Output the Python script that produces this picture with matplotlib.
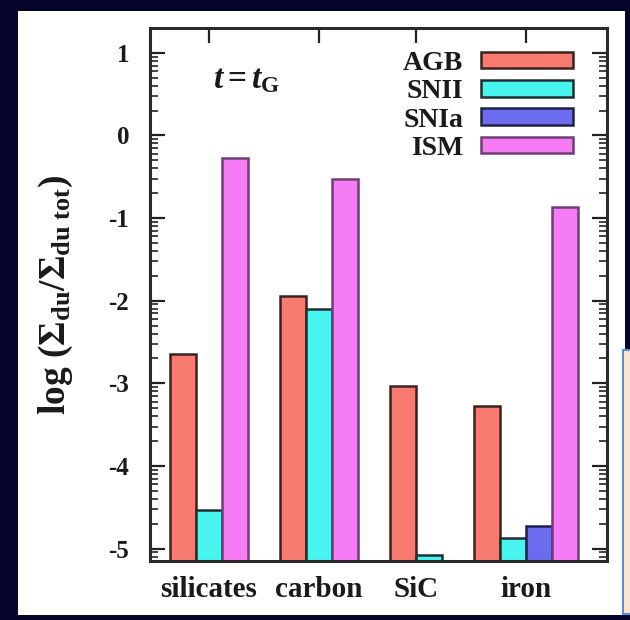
import numpy as np
import matplotlib
matplotlib.use('Agg')
import matplotlib.pyplot as plt
from matplotlib.patches import Rectangle

plt.rcParams['font.family'] = ['Liberation Serif', 'DejaVu Serif']
plt.rcParams['font.weight'] = 'bold'
plt.rcParams['axes.labelweight'] = 'bold'
plt.rcParams['mathtext.fontset'] = 'custom'
plt.rcParams['mathtext.rm'] = 'Liberation Serif:bold'
plt.rcParams['mathtext.it'] = 'Liberation Serif:italic:bold'
plt.rcParams['mathtext.bf'] = 'Liberation Serif:bold'

# dust species and stellar/ISM sources, log of the fraction of total dust
groups = ['silicates', 'carbon', 'SiC', 'iron']
sources = ['AGB', 'SNII', 'SNIa', 'ISM']
agb = [-2.65, -1.94, -3.03, -3.27]
snii = [-4.53, -2.10, -5.08, -4.87]
snia = [None, None, None, -4.73]
ism = [-0.27, -0.53, None, -0.87]
values = [agb, snii, snia, ism]

colors = ['#f77b6f', '#48f4ee', '#6c6cee', '#f57cf5']
edges = ['#3a2222', '#1f3030', '#20204a', '#6e3f75']

fig = plt.figure(figsize=(6.3, 6.2), dpi=100)
fig.patch.set_facecolor('#05052b')

# white slide panel behind the plot
fig.patches.append(Rectangle((0.0286, 0.008), 0.9635, 0.974, transform=fig.transFigure,
                             facecolor='white', edgecolor='none', zorder=-2))
# corner of the neighbouring text box
fig.patches.append(Rectangle((0.989, 0.0097), 0.05, 0.426, transform=fig.transFigure,
                             facecolor='#fde3cb', edgecolor='#5b8ed6', linewidth=1.5, zorder=-1))

ax = fig.add_axes([0.238, 0.0952, 0.7254, 0.8597])
ax.set_zorder(1)
ax.set_facecolor('none')

# bars of one group sit side by side, missing sources are skipped
gap = 1.23
base = -6.0
pos = [[] for _ in sources]
hts = [[] for _ in sources]
centers = []
x = 0.0
for gi in range(len(groups)):
    start = x
    for si in range(len(sources)):
        v = values[si][gi]
        if v is None:
            continue
        pos[si].append(x + 0.5)
        hts[si].append(v - base)
        x += 1
    centers.append((start + x) / 2)
    x += gap

handles = []
for si, name in enumerate(sources):
    b = ax.bar(pos[si], hts[si], width=1.0, bottom=base, color=colors[si],
               edgecolor=edges[si], linewidth=1.8, label=name)
    handles.append(b)

ax.set_xlim(-0.77, 16.8)
ax.set_ylim(-5.15, 1.3)
ax.set_axisbelow(True)

ax.set_xticks(centers)
ax.set_xticklabels(groups, fontsize=21)
ax.set_yticks(np.arange(-5, 2))
ax.set_yticklabels([str(v) for v in range(-5, 2)], fontsize=18)

minor = [m + np.log10(k) for m in range(-6, 2) for k in range(2, 10)]
ax.set_yticks([v for v in minor if -5.15 < v < 1.3], minor=True)

ax.tick_params(axis='both', which='major', direction='in', length=11, width=1.6,
               color='#222222', labelcolor='#1a1a1a', top=True, right=True)
ax.tick_params(axis='y', which='major', pad=15)
ax.tick_params(axis='x', which='major', pad=11)
ax.tick_params(axis='y', which='minor', direction='in', length=6, width=1.2,
               color='#222222', right=True)
for sp in ax.spines.values():
    sp.set_linewidth(2.2)
    sp.set_color('#2a2a2a')

ax.set_ylabel(r'log ($\Sigma_{\rm du}/\Sigma_{\rm du\ tot}$)', fontsize=27,
              va='center', color='#1a1a1a')
ax.yaxis.set_label_coords(-0.206, 0.5)

ax.text(0.138, 0.887, r'$t=t_{\rm G}$', transform=ax.transAxes, fontsize=24,
        ha='left', va='baseline', color='#1a1a1a')

ax.legend(handles=handles, loc='upper right', bbox_to_anchor=(0.925, 0.957),
          frameon=False, markerfirst=False, fontsize=20, handlelength=3.3,
          handleheight=0.55, handletextpad=0.65, labelspacing=0.12,
          borderpad=0, borderaxespad=0, labelcolor='#1a1a1a')

fig.savefig('out.png', dpi=100, facecolor=fig.get_facecolor())
